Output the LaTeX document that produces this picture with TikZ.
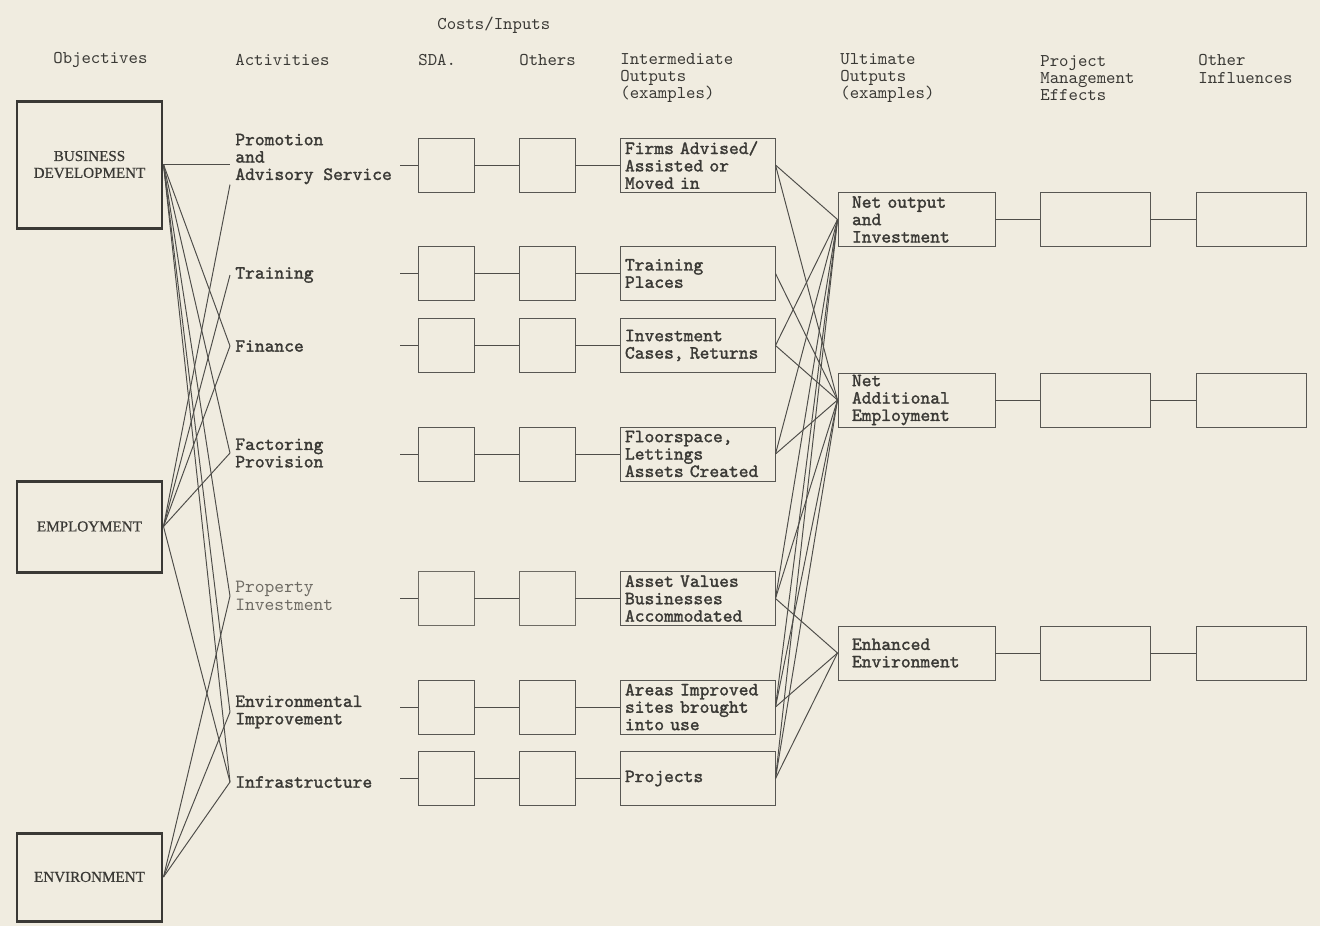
\documentclass[tikz,border=0pt]{standalone}
\usepackage{fontspec}
\newfontfamily\headfont{Latin Modern Mono}
\newfontfamily\labfont{Latin Modern Mono}[FakeBold=1.6]
\newfontfamily\objfont{Liberation Serif}[FakeBold=0.6]
\definecolor{paper}{HTML}{F0ECE0}
\definecolor{ink}{HTML}{3A3935}
\definecolor{faint}{HTML}{6E6B64}
\begin{document}
\begin{tikzpicture}[
  every node/.style={font=\headfont\fontsize{10.2}{9.9}\selectfont, text=ink},
  head/.style={anchor=west, align=left, inner sep=0pt},
  objbox/.style={draw=ink, line width=1.7pt, minimum width=2.9cm, align=center, font=\objfont\fontsize{8.6}{9.6}\selectfont},
  act/.style={anchor=west, align=left, inner xsep=0.1cm, inner ysep=0pt, font=\labfont\fontsize{10.6}{9.9}\selectfont},
  costbox/.style={draw=ink!85, line width=0.55pt, minimum width=1.12cm, minimum height=1.08cm},
  outbox/.style={draw=ink!85, line width=0.55pt, minimum height=1.08cm, text width=2.9cm, inner xsep=0.1cm, inner ysep=1pt, align=left, font=\labfont\fontsize{10.6}{9.9}\selectfont},
  ultbox/.style={outbox, text width=2.58cm, inner xsep=0.28cm},
  sidebox/.style={draw=ink!85, line width=0.55pt, minimum width=2.2cm, minimum height=1.08cm},
  link/.style={draw=ink!90, line width=0.55pt}
]
\fill[paper] (0,0) rectangle (26.4,-18.52);
\useasboundingbox (0,0) rectangle (26.4,-18.52);

% column headings
\node (hcost) [head] at (8.74,-0.5) {Costs/Inputs};
\node (hobj) [head] at (1.06,-1.2) {Objectives};
\node (hact) [head] at (4.7,-1.2) {Activities};
\node (hsda) [head] at (8.36,-1.2) {SDA.};
\node (hoth) [head] at (10.38,-1.2) {Others};
\node (hint) [head] at (12.4,-1.56) {Intermediate\\Outputs\\(examples)};
\node (hult) [head] at (16.8,-1.56) {Ultimate\\Outputs\\(examples)};
\node (hpm) [head] at (20.8,-1.56) {Project\\Management\\Effects};
\node (hoi) [head] at (23.96,-1.38) {Other\\Influences};

% objectives
\node (bd) [objbox, minimum height=2.54cm] at (1.79,-3.29) {BUSINESS\\DEVELOPMENT};
\node (emp) [objbox, minimum height=1.82cm] at (1.79,-10.53) {EMPLOYMENT};
\node (env) [objbox, minimum height=1.76cm] at (1.79,-17.54) {ENVIRONMENT};

% activities
\node (prom) [act] at (4.6,-3.18) {Promotion\\and\\Advisory Service};
\node (train) [act] at (4.6,-5.5) {Training};
\node (fin) [act] at (4.6,-6.92) {Finance};
\node (fac) [act] at (4.6,-9.06) {Factoring\\Provision};
\node (prop) [act, font=\headfont\fontsize{10.6}{9.9}\selectfont, text=faint] at (4.6,-11.92) {Property\\Investment};
\node (envi) [act] at (4.6,-14.24) {Environmental\\Improvement};
\node (infra) [act] at (4.6,-15.64) {Infrastructure};

\draw[link] (bd.east) -- (bd.east -| prom.west);
\draw[link] (bd.east) -- (fin.west);
\draw[link] (bd.east) -- (fac.west);
\draw[link] (bd.east) -- (prop.west);
\draw[link] (bd.east) -- (envi.west);
\draw[link] (bd.east) -- (infra.west);
\draw[link] (emp.east) -- (prom.south west);
\draw[link] (emp.east) -- (train.west);
\draw[link] (emp.east) -- (fin.west);
\draw[link] (emp.east) -- (fac.west);
\draw[link] (emp.east) -- (infra.west);
\draw[link] (env.east) -- (prop.west);
\draw[link] (env.east) -- (envi.west);
\draw[link] (env.east) -- (infra.west);

% costs / inputs
\coordinate (t1) at (8.0,-3.30);
\coordinate (t2) at (8.0,-5.47);
\coordinate (t3) at (8.0,-6.91);
\coordinate (t4) at (8.0,-9.08);
\coordinate (t5) at (8.0,-11.97);
\coordinate (t6) at (8.0,-14.14);
\coordinate (t7) at (8.0,-15.57);
\node (s1) [costbox] at (8.92,-3.30) {};
\node (s2) [costbox] at (8.92,-5.47) {};
\node (s3) [costbox] at (8.92,-6.91) {};
\node (s4) [costbox] at (8.92,-9.08) {};
\node (s5) [costbox, draw=faint] at (8.92,-11.97) {};
\node (s6) [costbox] at (8.92,-14.14) {};
\node (s7) [costbox] at (8.92,-15.57) {};
\node (o1) [costbox] at (10.94,-3.30) {};
\node (o2) [costbox] at (10.94,-5.47) {};
\node (o3) [costbox] at (10.94,-6.91) {};
\node (o4) [costbox] at (10.94,-9.08) {};
\node (o5) [costbox, draw=faint] at (10.94,-11.97) {};
\node (o6) [costbox] at (10.94,-14.14) {};
\node (o7) [costbox] at (10.94,-15.57) {};

% intermediate outputs
\node (i1) [outbox] at (13.95,-3.30) {Firms Advised/\\Assisted or\\Moved in};
\node (i2) [outbox] at (13.95,-5.47) {Training\\Places};
\node (i3) [outbox] at (13.95,-6.91) {Investment\\Cases, Returns};
\node (i4) [outbox] at (13.95,-9.08) {Floorspace,\\Lettings\\Assets Created};
\node (i5) [outbox] at (13.95,-11.97) {Asset Values\\Businesses\\Accommodated};
\node (i6) [outbox] at (13.95,-14.14) {Areas Improved\\sites brought\\into use};
\node (i7) [outbox] at (13.95,-15.57) {Projects};

\draw[link] (t1) -- (s1) -- (o1) -- (i1);
\draw[link] (t2) -- (s2) -- (o2) -- (i2);
\draw[link] (t3) -- (s3) -- (o3) -- (i3);
\draw[link] (t4) -- (s4) -- (o4) -- (i4);
\draw[link] (t5) -- (s5) -- (o5) -- (i5);
\draw[link] (t6) -- (s6) -- (o6) -- (i6);
\draw[link] (t7) -- (s7) -- (o7) -- (i7);

% ultimate outputs and after
\node (no) [ultbox] at (18.33,-4.39) {Net output\\and\\Investment};
\node (nae) [ultbox] at (18.33,-8.0) {Net\\Additional\\Employment};
\node (ee) [ultbox] at (18.33,-13.06) {Enhanced\\Environment};
\node (pm1) [sidebox] at (21.9,-4.39) {};
\node (pm2) [sidebox] at (21.9,-8.0) {};
\node (pm3) [sidebox] at (21.9,-13.06) {};
\node (oi1) [sidebox] at (25.02,-4.39) {};
\node (oi2) [sidebox] at (25.02,-8.0) {};
\node (oi3) [sidebox] at (25.02,-13.06) {};
\draw[link] (no) -- (pm1) -- (oi1);
\draw[link] (nae) -- (pm2) -- (oi2);
\draw[link] (ee) -- (pm3) -- (oi3);

\draw[link] (i1.east) -- (no.west);
\draw[link] (i3.east) -- (no.west);
\draw[link] (i4.east) -- (no.west);
\draw[link] (i5.east) -- (no.west);
\draw[link] (i6.east) -- (no.west);
\draw[link] (i7.east) -- (no.west);
\draw[link] (i1.east) -- (nae.west);
\draw[link] (i2.east) -- (nae.west);
\draw[link] (i3.east) -- (nae.west);
\draw[link] (i4.east) -- (nae.west);
\draw[link] (i5.east) -- (nae.west);
\draw[link] (i6.east) -- (nae.west);
\draw[link] (i7.east) -- (nae.west);
\draw[link] (i5.east) -- (ee.west);
\draw[link] (i6.east) -- (ee.west);
\draw[link] (i7.east) -- (ee.west);
\end{tikzpicture}
\end{document}
